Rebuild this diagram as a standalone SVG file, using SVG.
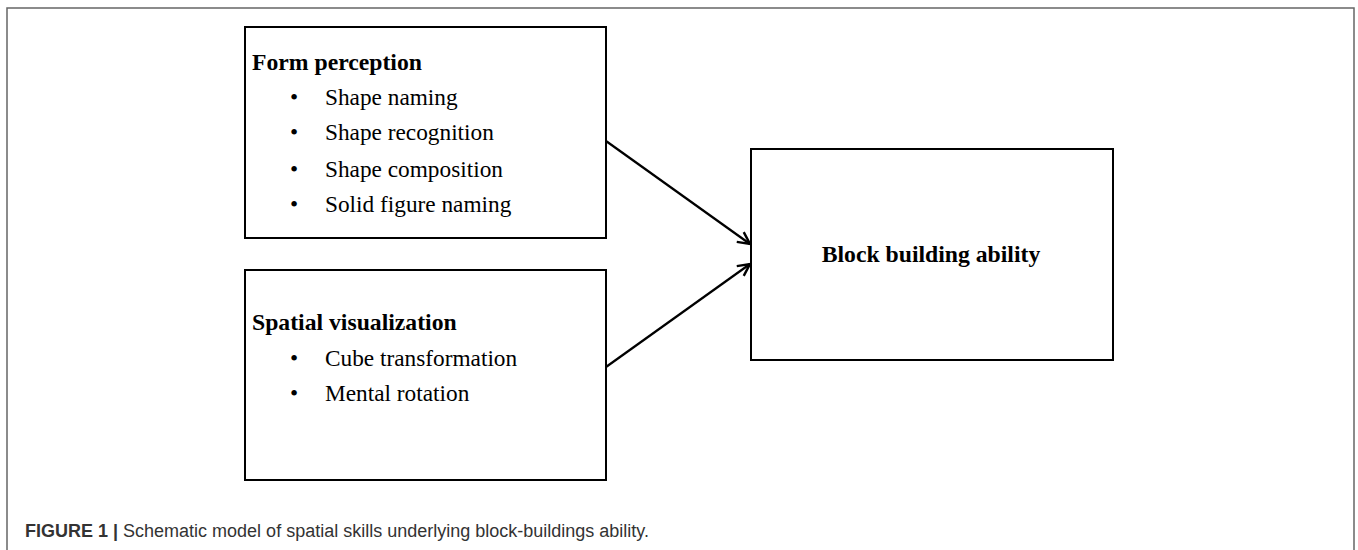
<svg xmlns="http://www.w3.org/2000/svg" width="1358" height="550" viewBox="0 0 1358 550">
<style>
.box{fill:#fff;stroke:#000;stroke-width:2}
.t{font-family:"Liberation Serif","Times New Roman",serif;font-size:23.3px;fill:#000}
.b{font-weight:bold;font-size:23.7px}
.cap{font-family:"Liberation Sans",Arial,sans-serif;font-size:18px;fill:#333}
.conn{stroke:#000;stroke-width:2.2;fill:none}
</style>
<defs>
<marker id="arr" viewBox="0 0 14 14" refX="13" refY="7" markerWidth="14" markerHeight="14" markerUnits="userSpaceOnUse" orient="auto">
<path d="M1,1 L13,7 L1,13" fill="none" stroke="#000" stroke-width="2.4"/>
</marker>
</defs>
<rect width="1358" height="550" fill="#fff"/>
<path d="M7,551 L7,8 L1354,8 L1354,551" fill="none" stroke="#666" stroke-width="1.5"/>
<g id="form-perception">
<rect class="box" x="245" y="27" width="361" height="211"/>
<text class="t b" x="252" y="70">Form perception</text>
<text class="t" x="290" y="105">•</text><text class="t" x="325" y="105">Shape naming</text>
<text class="t" x="290" y="140">•</text><text class="t" x="325" y="140">Shape recognition</text>
<text class="t" x="290" y="177">•</text><text class="t" x="325" y="177">Shape composition</text>
<text class="t" x="290" y="212">•</text><text class="t" x="325" y="212">Solid figure naming</text>
</g>
<g id="spatial-visualization">
<rect class="box" x="245" y="270" width="361" height="210"/>
<text class="t b" x="252" y="330">Spatial visualization</text>
<text class="t" x="290" y="366">•</text><text class="t" x="325" y="366">Cube transformation</text>
<text class="t" x="290" y="401">•</text><text class="t" x="325" y="401">Mental rotation</text>
</g>
<g id="block-building">
<rect class="box" x="751" y="149" width="362" height="211"/>
<text class="t b" x="931" y="262" text-anchor="middle">Block building ability</text>
</g>
<g id="connectors">
<line class="conn" x1="606" y1="141" x2="750" y2="244" marker-end="url(#arr)"/>
<line class="conn" x1="606" y1="367" x2="750" y2="264" marker-end="url(#arr)"/>
</g>
<text class="cap" x="25" y="537"><tspan font-weight="bold">FIGURE 1 |</tspan> Schematic model of spatial skills underlying block-buildings ability.</text>
</svg>
